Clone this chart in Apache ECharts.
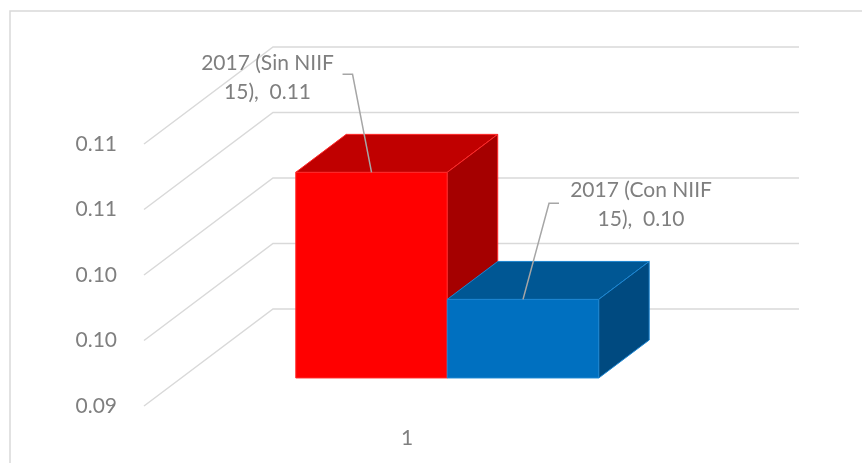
<!DOCTYPE html>
<html>
<head>
<meta charset="utf-8">
<script src="https://cdn.jsdelivr.net/npm/echarts@6/dist/echarts.min.js"></script>
<style>
  html, body { margin: 0; padding: 0; background: #fff; }
  #chart { width: 862px; height: 463px; }
</style>
</head>
<body>
<div id="chart"></div>
<script>
// datos del grafico
const categories = ['1'];
const seriesNames = ['2017 (Sin NIIF 15)', '2017 (Con NIIF 15)'];
const seriesValues = [0.1057, 0.0960];
const yTicks = [0.09, 0.095, 0.10, 0.105, 0.11];

// estilo de las caras (frente, tapa, lado)
const faceColors = [
    ['#FF0000', '#C00000', '#A50000'],
    ['#0070C0', '#005794', '#004A80']
];
const edgeColors = ['#FF2A2A', '#1C86D2'];
// posicion de etiquetas respecto al borde superior de la barra
const labelPos = [
    { tx: -104, ty: -95, lx1: -29, lx2: -19, ly: -98 },
    { tx: 118, ty: -95, lx1: 36, lx2: 26, ly: -96 }
];

const DX = 129, DY = -97;   // profundidad del fondo
const D0 = 0.289, D1 = 0.68; // profundidad de la barra
const P = (x, y, d) => [x + DX * d, y + DY * d];

const chart = echarts.init(document.getElementById('chart'));

chart.setOption({
    animation: false,
    graphic: [{
        type: 'rect',
        shape: { x: 10, y: 11, width: 900, height: 500 },
        style: { fill: 'none', stroke: '#D9D9D9', lineWidth: 1.5 },
        silent: true
    }],
    grid: { left: 144, right: 192, top: 144, bottom: 57 },
    xAxis: {
        type: 'category',
        data: categories,
        axisLine: { show: false },
        axisTick: { show: false },
        axisLabel: { color: '#7F7F7F', fontSize: 21, fontFamily: 'Lato', margin: 22 }
    },
    yAxis: {
        type: 'value',
        min: 0.09,
        max: 0.11,
        interval: 0.005,
        splitLine: { show: false },
        axisLine: { show: false },
        axisTick: { show: false },
        axisLabel: {
            color: '#7F7F7F', fontSize: 21, fontFamily: 'Lato', margin: 27,
            formatter: v => (Math.round(v * 100 + 1e-6) / 100).toFixed(2)
        }
    },
    series: [
        {
            // lineas de division en perspectiva
            type: 'custom',
            clip: false,
            z: 1,
            data: yTicks.map(v => [0, v]),
            renderItem(params, api) {
                const p = api.coord([0, api.value(1)]);
                const band = api.size([1, 0])[0];
                const xl = p[0] - band / 2, xr = p[0] + band / 2;
                return {
                    type: 'polyline',
                    shape: { points: [[xl, p[1]], P(xl, p[1], 1), P(xr, p[1], 1)] },
                    style: { stroke: '#D9D9D9', lineWidth: 1.5, fill: 'none' }
                };
            }
        },
        {
            type: 'custom',
            clip: false,
            z: 2,
            data: seriesValues.map(v => [0, v]),
            renderItem(params, api) {
                const i = params.dataIndex;
                const val = api.value(1);
                const yb = api.coord([0, 0.09])[1];
                const c = api.coord([0, val]);
                const yt = c[1];
                const band = api.size([1, 0])[0];
                const w = band * 0.288;
                const x0 = c[0] + 3 - w + i * w, x1 = x0 + w;
                const col = faceColors[i];
                const st = { stroke: edgeColors[i], lineWidth: 1 };
                const anchor = P((x0 + x1) / 2, yt, D0);
                const lp = labelPos[i];
                const name = seriesNames[i];
                const sp = name.lastIndexOf(' ');
                const txt = name.slice(0, sp) + '\n' + name.slice(sp + 1) + ',  ' + val.toFixed(2);
                return {
                    type: 'group',
                    children: [
                        { type: 'polygon', shape: { points: [P(x0, yt, D0), P(x1, yt, D0), P(x1, yb, D0), P(x0, yb, D0)] },
                          style: Object.assign({ fill: col[0] }, st) },
                        { type: 'polygon', shape: { points: [P(x0, yt, D0), P(x1, yt, D0), P(x1, yt, D1), P(x0, yt, D1)] },
                          style: Object.assign({ fill: col[1] }, st) },
                        { type: 'polygon', shape: { points: [P(x1, yt, D0), P(x1, yt, D1), P(x1, yb, D1), P(x1, yb, D0)] },
                          style: Object.assign({ fill: col[2] }, st) },
                        { type: 'polyline', z2: 10,
                          shape: { points: [[anchor[0] + lp.lx1, anchor[1] + lp.ly], [anchor[0] + lp.lx2, anchor[1] + lp.ly], anchor] },
                          style: { stroke: '#A6A6A6', lineWidth: 1.5, fill: 'none' } },
                        { type: 'text', z2: 10,
                          style: {
                              x: anchor[0] + lp.tx, y: anchor[1] + lp.ty, text: txt,
                              fill: '#7F7F7F', fontSize: 21, fontFamily: 'Lato', lineHeight: 29,
                              align: 'center', verticalAlign: 'middle'
                          } }
                    ]
                };
            }
        }
    ]
});
</script>
</body>
</html>
